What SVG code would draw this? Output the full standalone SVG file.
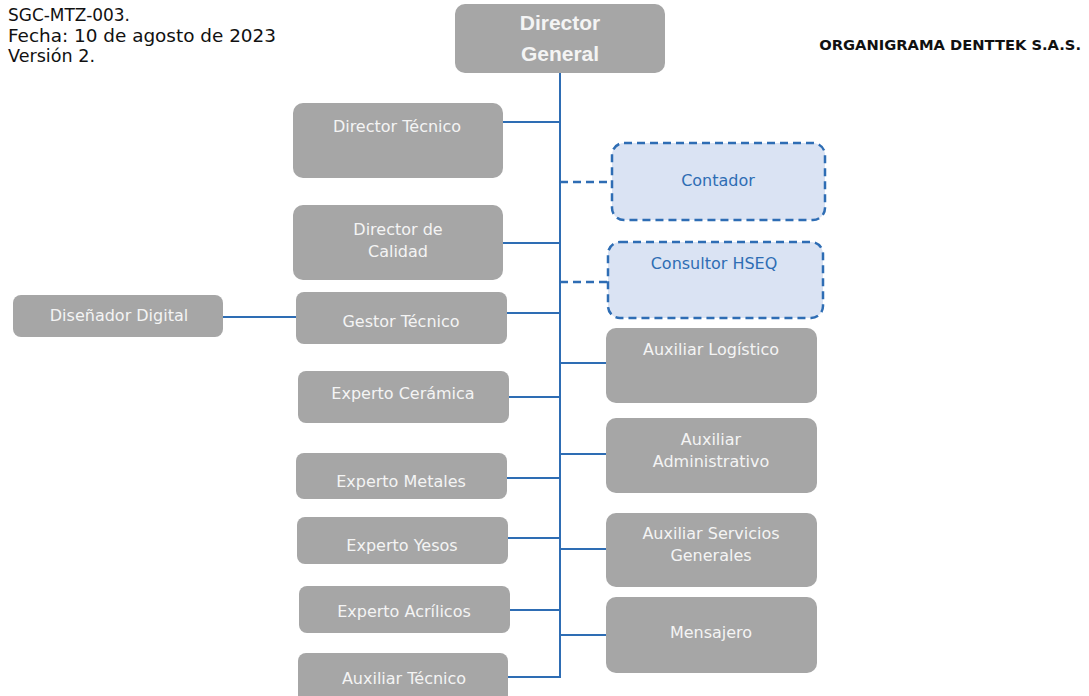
<svg xmlns="http://www.w3.org/2000/svg" width="1089" height="696" viewBox="0 0 1089 696">
  <style>
    .box { fill: #a6a6a6; }
    .aux { fill: #dae3f3; stroke: #2e6db4; stroke-width: 2.5; stroke-dasharray: 8 5; }
    .lbl { font-family: "DejaVu Sans", "Liberation Sans", sans-serif; font-size: 16px; fill: #f4f4f4; text-anchor: middle; }
    .lbl-aux { font-family: "DejaVu Sans", "Liberation Sans", sans-serif; font-size: 16px; fill: #2e6db4; text-anchor: middle; }
    .head { font-family: "DejaVu Sans", "Liberation Sans", sans-serif; font-size: 17px; fill: #111; }
    .title { font-family: "DejaVu Sans", "Liberation Sans", sans-serif; font-size: 14.7px; font-weight: bold; fill: #111; text-anchor: end; }
    .top { font-family: "Liberation Sans", "DejaVu Sans", sans-serif; font-size: 21px; font-weight: bold; fill: #f4f4f4; text-anchor: middle; }
    .link { stroke: #2e6db4; stroke-width: 2; fill: none; }
    .link-dash { stroke: #2e6db4; stroke-width: 2.5; fill: none; stroke-dasharray: 8 5; }
  </style>
  <rect width="1089" height="696" fill="#ffffff"/>

  <!-- document header -->
  <g id="header">
    <text class="head" x="8" y="21" textLength="122" lengthAdjust="spacingAndGlyphs">SGC-MTZ-003.</text>
    <text class="head" x="8" y="42" textLength="268" lengthAdjust="spacingAndGlyphs">Fecha: 10 de agosto de 2023</text>
    <text class="head" x="8" y="62" textLength="87" lengthAdjust="spacingAndGlyphs">Versión 2.</text>
    <text class="title" x="1081" y="50">ORGANIGRAMA DENTTEK S.A.S.</text>
  </g>

  <!-- reporting lines -->
  <g id="connectors">
    <line class="link" x1="560" y1="72" x2="560" y2="678"/>
    <line class="link" x1="503" y1="122" x2="560" y2="122"/>
    <line class="link" x1="503" y1="243" x2="560" y2="243"/>
    <line class="link" x1="507" y1="313" x2="560" y2="313"/>
    <line class="link" x1="223" y1="317" x2="296" y2="317"/>
    <line class="link" x1="509" y1="397" x2="560" y2="397"/>
    <line class="link" x1="507" y1="478" x2="560" y2="478"/>
    <line class="link" x1="508" y1="538" x2="560" y2="538"/>
    <line class="link" x1="510" y1="610" x2="560" y2="610"/>
    <line class="link" x1="508" y1="677" x2="560" y2="677"/>
    <line class="link-dash" x1="560" y1="182" x2="612" y2="182"/>
    <line class="link-dash" x1="560" y1="282" x2="608" y2="282"/>
    <line class="link" x1="560" y1="363" x2="606" y2="363"/>
    <line class="link" x1="560" y1="454" x2="606" y2="454"/>
    <line class="link" x1="560" y1="549" x2="606" y2="549"/>
    <line class="link" x1="560" y1="635" x2="606" y2="635"/>
  </g>

  <g id="director-general">
    <rect class="box" x="455" y="4" width="210" height="69" rx="10"/>
    <text class="top" x="560" y="30">Director</text>
    <text class="top" x="560" y="61">General</text>
  </g>

  <g id="director-tecnico">
    <rect class="box" x="293" y="103" width="210" height="75" rx="10"/>
    <text class="lbl" x="397" y="132">Director Técnico</text>
  </g>

  <g id="director-calidad">
    <rect class="box" x="293" y="205" width="210" height="75" rx="10"/>
    <text class="lbl" x="398" y="235">Director de</text>
    <text class="lbl" x="398" y="257">Calidad</text>
  </g>

  <g id="disenador-digital">
    <rect class="box" x="13" y="295" width="210" height="42" rx="8"/>
    <text class="lbl" x="119" y="321">Diseñador Digital</text>
  </g>

  <g id="gestor-tecnico">
    <rect class="box" x="296" y="292" width="211" height="52" rx="8"/>
    <text class="lbl" x="401" y="327">Gestor Técnico</text>
  </g>

  <g id="experto-ceramica">
    <rect class="box" x="298" y="371" width="211" height="52" rx="8"/>
    <text class="lbl" x="403" y="399">Experto Cerámica</text>
  </g>

  <g id="experto-metales">
    <rect class="box" x="296" y="453" width="211" height="46" rx="8"/>
    <text class="lbl" x="401" y="487">Experto Metales</text>
  </g>

  <g id="experto-yesos">
    <rect class="box" x="297" y="517" width="211" height="47" rx="8"/>
    <text class="lbl" x="402" y="551">Experto Yesos</text>
  </g>

  <g id="experto-acrilicos">
    <rect class="box" x="299" y="586" width="211" height="47" rx="8"/>
    <text class="lbl" x="404" y="617">Experto Acrílicos</text>
  </g>

  <g id="auxiliar-tecnico">
    <rect class="box" x="298" y="653" width="210" height="52" rx="8"/>
    <text class="lbl" x="404" y="684">Auxiliar Técnico</text>
  </g>

  <g id="contador">
    <rect class="aux" x="612" y="143" width="213" height="77" rx="12"/>
    <text class="lbl-aux" x="718" y="186">Contador</text>
  </g>

  <g id="consultor-hseq">
    <rect class="aux" x="608" y="242" width="215" height="76" rx="12"/>
    <text class="lbl-aux" x="714" y="269">Consultor HSEQ</text>
  </g>

  <g id="auxiliar-logistico">
    <rect class="box" x="606" y="328" width="211" height="75" rx="10"/>
    <text class="lbl" x="711" y="355">Auxiliar Logístico</text>
  </g>

  <g id="auxiliar-administrativo">
    <rect class="box" x="606" y="418" width="211" height="75" rx="10"/>
    <text class="lbl" x="711" y="445">Auxiliar</text>
    <text class="lbl" x="711" y="467">Administrativo</text>
  </g>

  <g id="auxiliar-servicios">
    <rect class="box" x="606" y="513" width="211" height="74" rx="10"/>
    <text class="lbl" x="711" y="539">Auxiliar Servicios</text>
    <text class="lbl" x="711" y="561">Generales</text>
  </g>

  <g id="mensajero">
    <rect class="box" x="606" y="597" width="211" height="76" rx="10"/>
    <text class="lbl" x="711" y="638">Mensajero</text>
  </g>
</svg>
